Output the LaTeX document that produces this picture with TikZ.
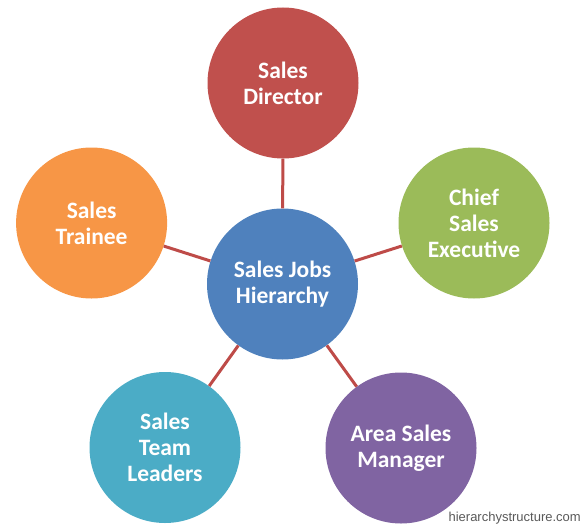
\documentclass[tikz,border=0pt]{standalone}
\usepackage{fontspec}
\setmainfont{Carlito}
\newfontfamily\wmfont{Liberation Sans}
\definecolor{cred}{HTML}{C0504D}
\definecolor{cblue}{HTML}{4F81BD}
\definecolor{cgreen}{HTML}{9BBB59}
\definecolor{cpurple}{HTML}{8064A2}
\definecolor{caqua}{HTML}{4BACC6}
\definecolor{corange}{HTML}{F79646}
\definecolor{clink}{HTML}{BE4B48}
\tikzset{
  bubble/.style={circle, minimum size=151pt, inner sep=0pt, text=white,
    align=center, font=\bfseries\fontsize{23.5}{26}\selectfont},
  link/.style={draw=clink, line width=3pt}
}
\begin{document}
\begin{tikzpicture}[x=1pt,y=-1pt]
\useasboundingbox (0,0) rectangle (583,527);
\node[bubble, fill=cblue]   (c)   at (282.5,284) {Sales Jobs\\Hierarchy};
\node[bubble, fill=cred]    (dir) at (283,83)    {Sales\\Director};
\node[bubble, fill=cgreen]  (cse) at (474,223)   {Chief\\Sales\\Executive};
\node[bubble, fill=cpurple] (asm) at (401,448)   {Area Sales\\Manager};
\node[bubble, fill=caqua]   (stl) at (165,447.5) {Sales\\Team\\Leaders};
\node[bubble, fill=corange] (st)  at (91.6,223)  {Sales\\Trainee};
\draw[link] (c) -- (dir);
\draw[link] (c) -- (cse);
\draw[link] (c) -- (asm);
\draw[link] (c) -- (stl);
\draw[link] (c) -- (st);
\node[anchor=base east, inner sep=0pt, text=black!65, font=\wmfont\fontsize{13}{15}\selectfont] (wm) at (581,521) {hierarchystructure.com};
\end{tikzpicture}
\end{document}
